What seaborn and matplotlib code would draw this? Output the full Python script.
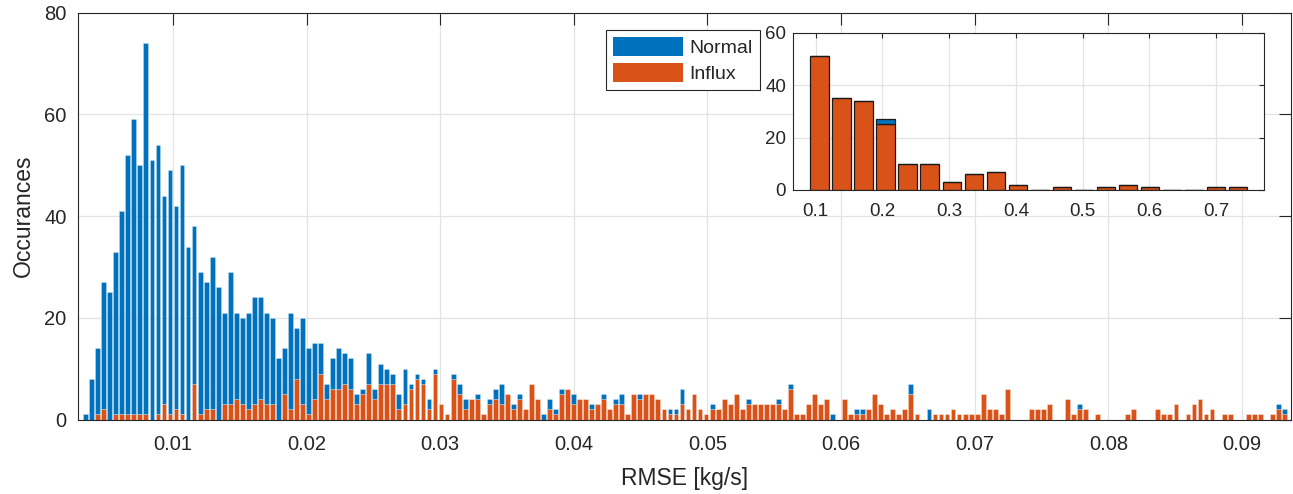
import numpy as np
import pandas as pd
import matplotlib
matplotlib.use("Agg")
import matplotlib.pyplot as plt
import seaborn as sns
from matplotlib.patches import Patch

# ---------------- data ----------------
classes = ["Normal", "Influx"]
bin_start = 0.003238     # left edge of first RMSE bin [kg/s]
bin_width = 0.0004508    # RMSE bin width [kg/s]

normal_counts = [
    1, 8, 13, 25, 25, 32, 40, 51, 58, 49, 73, 51, 53, 41, 48, 40, 49, 34, 31, 28, 25, 30, 26, 18,   # 0-23
    26, 17, 17, 19, 21, 20, 18, 17, 12, 9, 19, 10, 17, 13, 11, 6, 3, 6, 8, 6, 6, 2, 1,               # 24-46
    6, 2, 4, 3, 2, 3, 7, 1, 1, 1, 2, 1, 0, 0, 1, 2, 2, 0, 1, 0, 1, 2, 4,                             # 47-69
    0, 1, 1, 0, 0, 0, 1, 2, 1, 1, 0, 2, 0, 0, 1, 0, 1, 0, 1, 2, 0, 0, 1,                             # 70-92
    0, 0, 0, 0, 1, 1, 3, 0, 0, 0, 0, 1, 0, 0, 0, 0, 0, 1, 0, 0, 0, 0, 1, 0,                          # 93-116
    1, 0, 0, 0, 0, 0, 0, 1, 0, 0, 0, 1, 1, 0, 0, 0, 0, 0, 0, 0, 2, 0,                                # 117-138
    0, 2, 0, 0, 0, 0, 0, 0, 0, 0, 0, 0, 0, 0, 0, 0, 0, 0, 0, 0, 0, 0, 0, 0,                          # 139-162
    0, 0, 1, 0, 0, 0, 0, 0, 0, 0, 0, 0, 0, 0, 0, 0, 0, 0, 0, 0, 0, 0, 0, 0,                          # 163-186
    0, 0, 0, 0, 0, 0, 0, 0, 0, 0, 0, 1, 1,                                                           # 187-199
]
influx_counts = [
    0, 0, 1, 2, 0, 1, 1, 1, 1, 1, 1, 0, 1, 3, 1, 2, 1, 0, 7, 1, 2, 2, 0, 3,                          # 0-23
    3, 4, 3, 2, 3, 4, 3, 3, 0, 5, 2, 8, 3, 1, 4, 9, 4, 6, 6, 7, 6, 3, 5,                             # 24-46
    7, 4, 7, 7, 7, 2, 3, 6, 8, 7, 2, 9, 3, 1, 8, 5, 2, 4, 4, 1, 3, 4, 3,                             # 47-69
    5, 2, 4, 2, 7, 4, 0, 2, 1, 5, 6, 3, 4, 4, 2, 3, 4, 2, 3, 3, 1, 5, 4,                             # 70-92
    5, 5, 4, 2, 1, 1, 3, 2, 5, 2, 1, 2, 2, 4, 3, 5, 2, 3, 3, 3, 3, 3, 3, 2,                          # 93-116
    6, 1, 1, 3, 5, 3, 4, 0, 0, 4, 1, 1, 1, 2, 5, 3, 1, 2, 1, 2, 5, 1,                                # 117-138
    0, 0, 1, 1, 1, 2, 1, 1, 1, 1, 5, 2, 2, 1, 6, 0, 0, 0, 2, 2, 2, 3, 0, 0,                          # 139-162
    4, 1, 2, 2, 0, 1, 0, 0, 0, 0, 1, 2, 0, 0, 0, 2, 1, 1, 3, 0, 1, 3, 4, 1,                          # 163-186
    2, 0, 1, 1, 0, 0, 1, 1, 1, 0, 1, 2, 1,                                                           # 187-199
]

# inset: large-RMSE tail
inset_centers = [0.1058, 0.1388, 0.1718, 0.2048, 0.2378, 0.2708, 0.3038, 0.3368, 0.3698, 0.4028,
                 0.4358, 0.4688, 0.5018, 0.5348, 0.5678, 0.6008, 0.6338, 0.6668, 0.6998, 0.7328]
inset_normal = [0, 0, 0, 2, 0, 0, 0, 0, 0, 0, 0, 0, 0, 0, 0, 0, 0, 0, 0, 0]
inset_influx = [51, 35, 34, 25, 10, 10, 3, 6, 7, 2, 0, 1, 0, 1, 2, 1, 0, 0, 1, 1]
inset_bin_width = 0.033

main_xticks = [0.01, 0.02, 0.03, 0.04, 0.05, 0.06, 0.07, 0.08, 0.09]
main_xticklabels = ["0.01", "0.02", "0.03", "0.04", "0.05", "0.06", "0.07", "0.08", "0.09"]
main_yticks = [0, 20, 40, 60, 80]
inset_xticks = [0.1, 0.2, 0.3, 0.4, 0.5, 0.6, 0.7]
inset_yticks = [0, 20, 40, 60]

# ---------------- style ----------------
BLUE = "#0072BD"
ORANGE = "#D95319"
DARK = "#262626"
GRID = "#e3e3e3"

sns.set_style("white")
plt.rcParams["font.family"] = ["Liberation Sans", "DejaVu Sans"]

n_bins = len(normal_counts)
edges = bin_start + bin_width * np.arange(n_bins + 1)
centers = (edges[:-1] + edges[1:]) / 2
main_df = pd.DataFrame({
    "rmse": np.concatenate([centers, centers]),
    "count": np.concatenate([normal_counts, influx_counts]),
    "cls": [classes[0]] * n_bins + [classes[1]] * n_bins,
})

ic = np.array(inset_centers)
inset_edges = np.concatenate([ic - inset_bin_width / 2, [ic[-1] + inset_bin_width / 2]])
inset_df = pd.DataFrame({
    "rmse": np.concatenate([ic, ic]),
    "count": np.concatenate([inset_normal, inset_influx]),
    "cls": [classes[0]] * len(ic) + [classes[1]] * len(ic),
})
palette = {classes[0]: BLUE, classes[1]: ORANGE}

fig = plt.figure(figsize=(12.93, 4.94), dpi=100)
ax = fig.add_axes([78 / 1293, 1 - 419.5 / 494, (1291 - 78) / 1293, (419.5 - 12.7) / 494])

sns.histplot(data=main_df, x="rmse", weights="count", hue="cls", hue_order=classes,
             bins=edges.tolist(), multiple="stack", shrink=0.8, palette=palette, alpha=1,
             edgecolor=(1, 1, 1, 0.35), linewidth=0.5, legend=False, ax=ax)

ax.set_xlim(0.00289, 0.09367)
ax.set_ylim(0, 80)
ax.set_xticks(main_xticks)
ax.set_xticklabels(main_xticklabels)
ax.set_yticks(main_yticks)
ax.set_xlabel("RMSE [kg/s]", fontsize=16.5, color=DARK, labelpad=9)
ax.set_ylabel("Occurances", fontsize=16.5, color=DARK, labelpad=7)
ax.grid(True, color=GRID, linewidth=0.9)
ax.set_axisbelow(True)
ax.tick_params(direction="in", length=8.5, width=0.8, top=True, right=True,
               labelsize=14.5, colors=DARK)
ax.tick_params(axis="x", pad=11.5)
ax.tick_params(axis="y", pad=8.2)
for s in ax.spines.values():
    s.set_color(DARK)
    s.set_linewidth(0.8)

handles = [Patch(facecolor=BLUE, edgecolor="none", label=classes[0]),
           Patch(facecolor=ORANGE, edgecolor="none", label=classes[1])]
leg = ax.legend(handles=handles, loc="upper left", bbox_to_anchor=(606 / 1293, 1 - 30 / 494),
                bbox_transform=fig.transFigure, borderaxespad=0, fontsize=14,
                frameon=True, fancybox=False, framealpha=1, edgecolor=DARK,
                handlelength=3.6, handleheight=1.13, handletextpad=0.35,
                labelspacing=0.3, borderpad=0.35)
leg.get_frame().set_linewidth(0.8)

# ---------------- inset ----------------
axi = fig.add_axes([793 / 1293, 1 - 190 / 494, (1264 - 793) / 1293, (190 - 32.7) / 494])
axi.set_facecolor("white")
sns.histplot(data=inset_df, x="rmse", weights="count", hue="cls", hue_order=classes,
             bins=inset_edges.tolist(), multiple="stack", shrink=0.83, palette=palette, alpha=1,
             edgecolor="#1a1a1a", linewidth=0.9, legend=False, ax=axi)
axi.set_xlim(0.066, 0.772)
axi.set_ylim(0, 60)
axi.set_xticks(inset_xticks)
axi.set_yticks(inset_yticks)
axi.set_xlabel("")
axi.set_ylabel("")
axi.grid(True, color=GRID, linewidth=0.9)
axi.set_axisbelow(True)
axi.tick_params(direction="in", length=3.5, width=0.8, top=True, right=True,
                labelsize=13.5, colors=DARK)
axi.tick_params(axis="x", pad=9.5)
axi.tick_params(axis="y", pad=5)
for s in axi.spines.values():
    s.set_color(DARK)
    s.set_linewidth(0.8)

fig.savefig("out.png", dpi=100)
